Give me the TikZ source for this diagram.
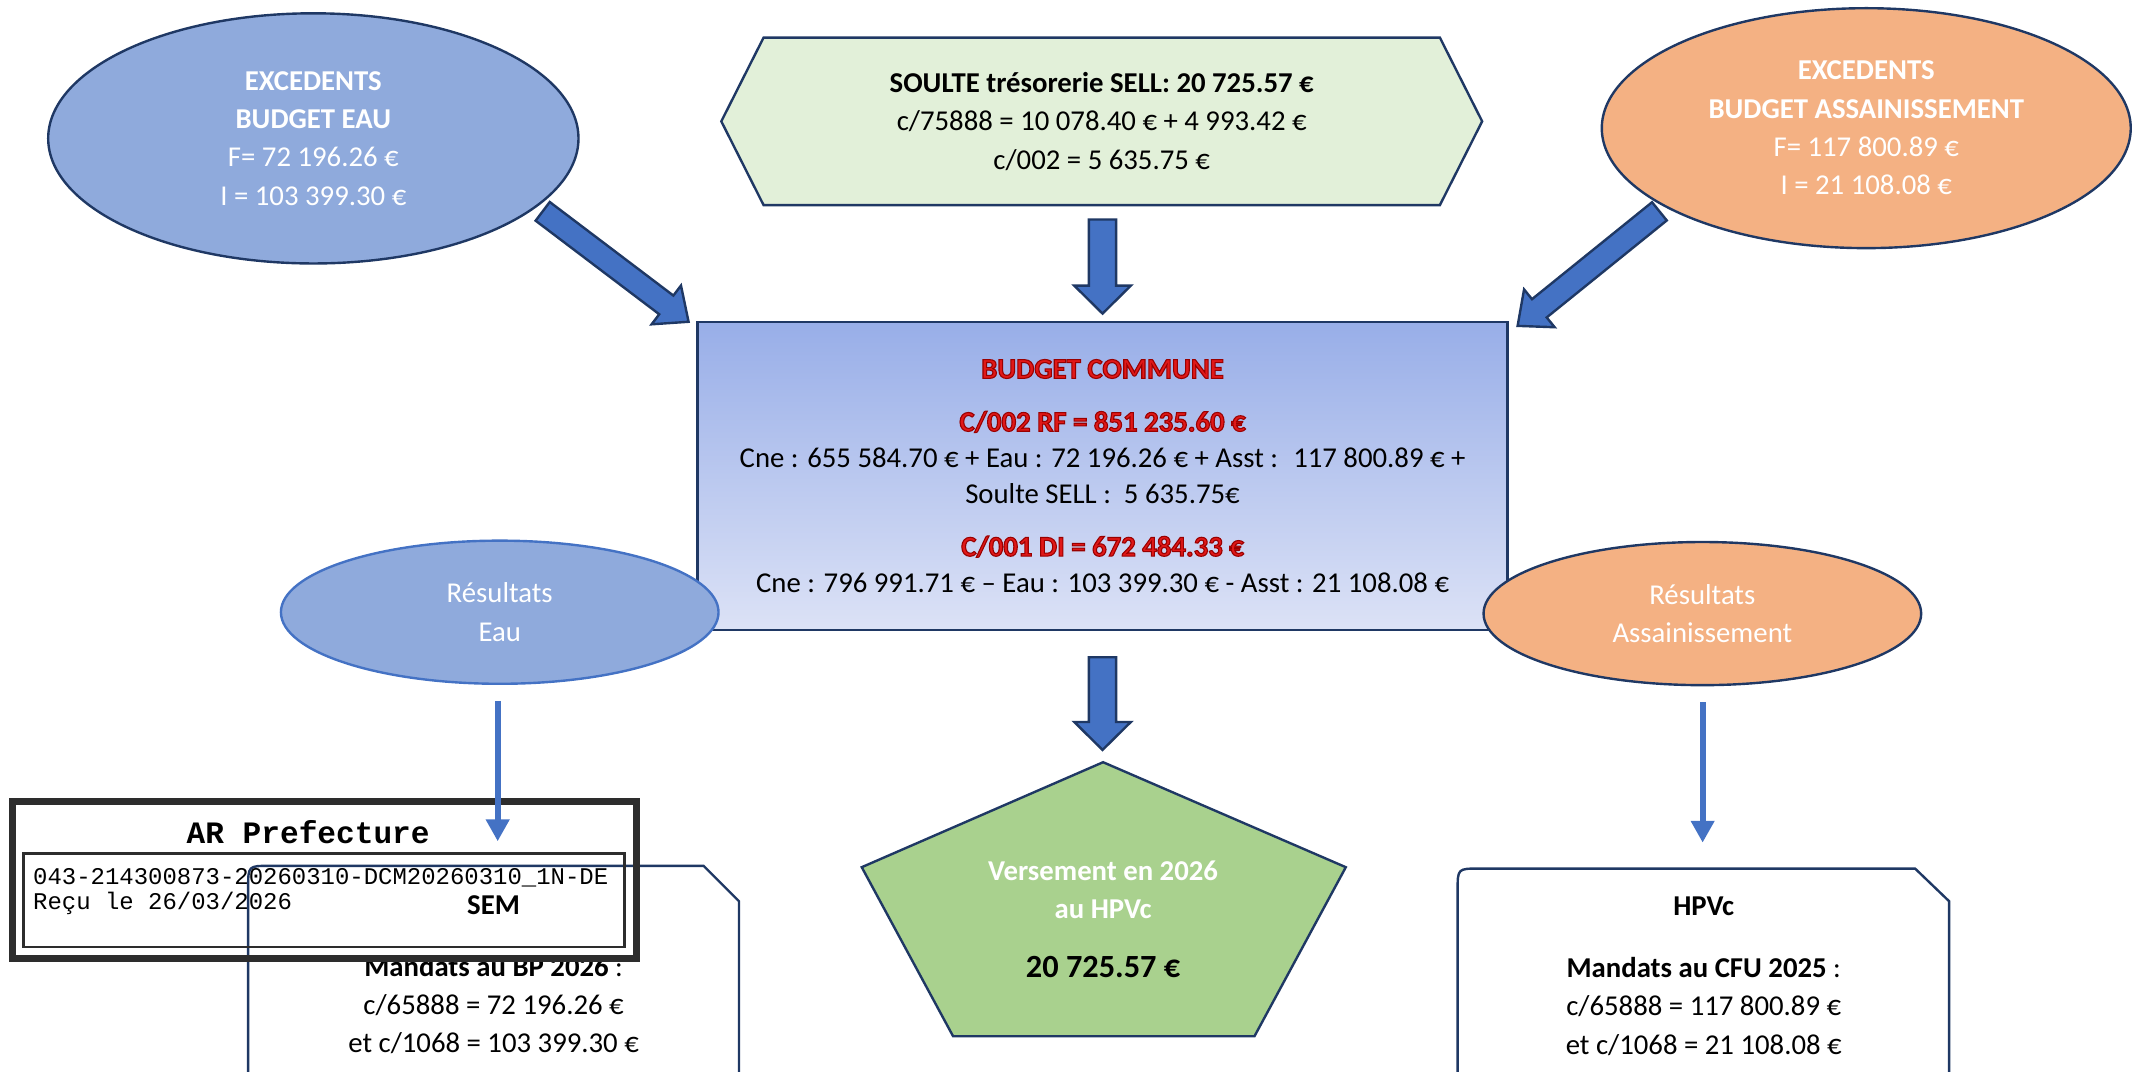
\documentclass[tikz,border=0pt]{standalone}
\usepackage{fontspec}
\setmainfont{Carlito}
\newfontfamily\stampfont{Liberation Mono}
\usetikzlibrary{calc,shapes.geometric,arrows.meta}

\definecolor{eauBlue}{HTML}{8FAADC}
\definecolor{asstOrange}{HTML}{F4B183}
\definecolor{soulteGreen}{HTML}{E2F0D9}
\definecolor{hpvGreen}{HTML}{A9D18E}
\definecolor{arrowBlue}{HTML}{4472C4}
\definecolor{borderNavy}{HTML}{1F3864}
\definecolor{budgetTop}{HTML}{98AEE8}
\definecolor{budgetBottom}{HTML}{DCE2F6}
\definecolor{budgetRed}{HTML}{E01818}
\definecolor{stampGray}{HTML}{2D2D2D}

% red title with a dark red outline
\newcommand\redTitle[1]{{\bfseries\color{budgetRed}%
  \special{pdf:literal direct 0.6 0 0 RG 0.45 w 2 Tr}#1\special{pdf:literal direct 0 Tr}}}

% block arrow from tail (#2) to tip (#3), #1 scales its width
\newcommand\fatarrow[3][1]{%
  \coordinate (fatbase) at ($(#3)!0.41cm!(#2)$);
  \draw[fatArrowDecorate] ($(#2)!#1*0.2cm!90:(#3)$) -- ($(fatbase)!#1*0.2cm!90:(#3)$)
    -- ($(fatbase)!#1*0.415cm!90:(#3)$) -- (#3)
    -- ($(fatbase)!#1*0.415cm!-90:(#3)$) -- ($(fatbase)!#1*0.2cm!-90:(#3)$)
    -- ($(#2)!#1*0.2cm!-90:(#3)$) -- cycle;
}

\begin{document}
\begin{tikzpicture}
[x=0.02cm, y=-0.02cm,
  ellipseDecorate/.style={shape=ellipse,draw=borderNavy,line width=1pt,inner sep=0pt,
    align=center,text=white,font=\fontsize{12}{16}\selectfont},
  boxDecorate/.style={draw=borderNavy,line width=1pt,line join=miter},
  fatArrowDecorate/.style={fill=arrowBlue,draw=borderNavy,line width=1pt,line join=miter},
  thinArrowDecorate/.style={-{Triangle[length=0.32cm,width=0.33cm]},draw=arrowBlue,line width=2.4pt},
  textDecorate/.style={align=center,inner sep=0pt,font=\fontsize{12}{16}\selectfont},
  stampDecorate/.style={draw=stampGray,inner sep=0pt}]
\useasboundingbox (0,0) rectangle (1568,786);
\clip (0,0) rectangle (1568,786);

%% shapes drawn directly
\draw[boxDecorate, fill=soulteGreen] (529,89) -- (560,27.6) -- (1056,27.6) -- (1087,89)
  -- (1056,150.4) -- (560,150.4) -- cycle;
\draw[boxDecorate, fill=hpvGreen] (809,559) -- (987,636) -- (920,760) -- (699,760)
  -- (632,636) -- cycle;
\draw[boxDecorate] (182,800) -- (182,651) .. controls (182,635) .. (198,635)
  -- (516,635) -- (542,661) -- (542,800);
\draw[boxDecorate] (1069,800) -- (1069,653) .. controls (1069,637) .. (1085,637)
  -- (1404.5,637) -- (1429.5,661) -- (1429.5,800);

%% nodes
\node[ellipseDecorate, fill=eauBlue, minimum width=7.78cm, minimum height=3.67cm]
  (eau) at (229.8,101.5) {\textbf{EXCEDENTS}\\\textbf{BUDGET EAU}\\F= 72 196.26 €\\I = 103 399.30 €};
\node[ellipseDecorate, fill=asstOrange, minimum width=7.76cm, minimum height=3.52cm]
  (asst) at (1368.7,94) {\textbf{EXCEDENTS}\\\textbf{BUDGET ASSAINISSEMENT}\\F= 117 800.89 €\\I = 21 108.08 €};
\node[textDecorate] (soulte) at (808,89)
  {\textbf{SOULTE trésorerie SELL: 20 725.57 €}\\c/75888 = 10 078.40 € + 4 993.42 €\\c/002 = 5 635.75 €};
\node[boxDecorate, top color=budgetTop, bottom color=budgetBottom, minimum width=11.88cm,
  minimum height=4.52cm, align=center, font=\fontsize{12}{15}\selectfont] (commune) at (808.6,349)
  {\redTitle{BUDGET COMMUNE}\\[0.25cm]
   \redTitle{C/002 RF = 851 235.60 €}\\
   Cne : 655 584.70 € + Eau : 72 196.26 € + Asst :~ 117 800.89 € +\\
   Soulte SELL :~ 5 635.75€\\[0.25cm]
   \redTitle{C/001 DI = 672 484.33 €}\\
   Cne : 796 991.71 € – Eau : 103 399.30 € - Asst : 21 108.08 €};
\node[ellipseDecorate, fill=eauBlue, draw=arrowBlue, minimum width=6.42cm, minimum height=2.1cm]
  (resEau) at (366.5,449) {Résultats\\Eau};
\node[ellipseDecorate, fill=asstOrange, minimum width=6.42cm, minimum height=2.1cm]
  (resAsst) at (1248.5,450) {Résultats\\Assainissement};
\node[textDecorate] (versement) at (809,674)
  {\textcolor{white}{\textbf{Versement en 2026}}\\\textcolor{white}{\textbf{au HPVc}}\\[0.3cm]{\fontsize{13.5}{16}\selectfont\bfseries 20 725.57 €}};
\node[textDecorate] (sem) at (362,715)
  {\textbf{SEM}\\[0.34cm]\textbf{Mandats au BP 2026} :\\c/65888 = 72 196.26 €\\et c/1068 = 103 399.30 €};
\node[textDecorate] (hpvc) at (1249.5,716)
  {\textbf{HPVc}\\[0.34cm]\textbf{Mandats au CFU 2025} :\\c/65888 = 117 800.89 €\\et c/1068 = 21 108.08 €};

%% stamp
\node[stampDecorate, line width=0.1cm, minimum width=9.16cm, minimum height=2.31cm] (stamp) at (238,645.4) {};
\node[stampDecorate, line width=1.1pt, minimum width=8.82cm, minimum height=1.37cm] (stampInner) at (237.5,660.3) {};
\node[inner sep=0pt, font=\stampfont\fontsize{13}{13}\selectfont\bfseries] (stampTitle) at (226,610) {AR Prefecture};
\node[inner sep=0pt, align=left, anchor=west, font=\stampfont\fontsize{10}{10.2}\selectfont]
  (stampRef) at (24,654) {043-214300873-20260310-DCM20260310\_1N-DE\\Reçu le 26/03/2026};

%% arrow ends
\foreach \cname/\x/\y in {
  eauTail/398/155, eauTip/505/236, soulteTail/808.6/161, soulteTip/808.6/230,
  asstTail/1217/155, asstTip/1113/239, communeTail/808.6/482, communeTip/808.6/550,
  resEauStart/365/514, resEauEnd/365/617, resAsstStart/1248.7/515, resAsstEnd/1248.7/618}
{
  \coordinate (\cname) at (\x,\y);
}
%% block arrows
\foreach \f/\a/\b in {0.86/eauTail/eauTip, 1/soulteTail/soulteTip,
  0.86/asstTail/asstTip, 1/communeTail/communeTip}
{
  \fatarrow[\f]{\a}{\b}
}
%% thin arrows
\path
\foreach \startnode/\endnode in {resEauStart/resEauEnd, resAsstStart/resAsstEnd}
{
  (\startnode) edge[thinArrowDecorate] (\endnode)
};
\end{tikzpicture}
\end{document}
